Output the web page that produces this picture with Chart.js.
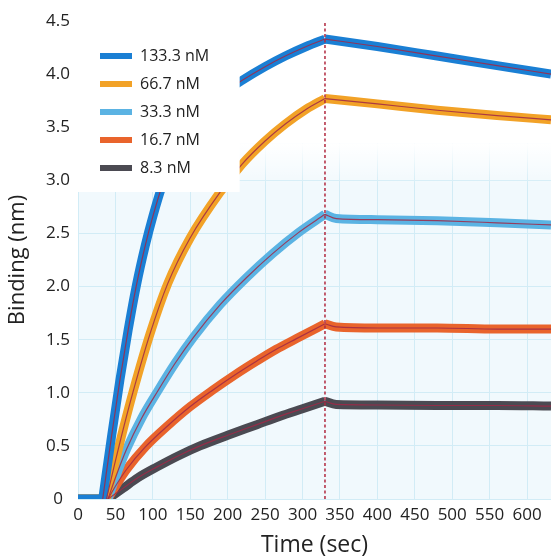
<!DOCTYPE html>
<html>
<head>
<meta charset="utf-8">
<script src="https://cdn.jsdelivr.net/npm/chart.js@4.4.1/dist/chart.umd.min.js"></script>
<style>
  html, body { margin: 0; padding: 0; background: #fff; overflow: hidden; }
</style>
</head>
<body>
<canvas id="chart" width="551" height="556"></canvas>
<script>
// concentrations, in legend order
const seriesLabels = ["133.3 nM", "66.7 nM", "33.3 nM", "16.7 nM", "8.3 nM"];
const seriesColors = ["#1a7fd4", "#f2a227", "#5bb3e3", "#e9642c", "#4b4a52"];

// time (sec) / binding (nm)
const time133 = [0, 33, 45, 56, 67, 78, 90, 100, 112, 130, 150, 175, 200, 219, 250, 277, 305, 330, 400, 480, 560, 632];
const bind133 = [0, 0, 0.6, 1.12, 1.59, 2.01, 2.39, 2.66, 2.94, 3.25, 3.49, 3.7, 3.85, 3.94, 4.07, 4.17, 4.26, 4.33, 4.26, 4.17, 4.08, 4.0];

const time66 = [0, 38, 48, 58, 74, 96, 120, 150, 190, 219, 250, 277, 305, 330, 400, 480, 560, 632];
const bind66 = [0, 0, 0.3, 0.59, 1.02, 1.55, 2.03, 2.46, 2.89, 3.15, 3.37, 3.53, 3.67, 3.77, 3.72, 3.66, 3.61, 3.57];

const time33 = [0, 40, 50, 65, 85, 106, 130, 154, 190, 226, 260, 295, 330, 345, 400, 480, 560, 632];
const bind33 = [0, 0, 0.2, 0.47, 0.76, 1.01, 1.28, 1.52, 1.83, 2.09, 2.31, 2.51, 2.68, 2.64, 2.63, 2.62, 2.6, 2.58];

const time16 = [0, 40, 50, 65, 90, 120, 150, 179, 210, 239, 265, 292, 330, 345, 400, 480, 560, 632];
const bind16 = [0, 0, 0.12, 0.28, 0.49, 0.69, 0.87, 1.02, 1.17, 1.3, 1.41, 1.51, 1.65, 1.62, 1.61, 1.61, 1.6, 1.6];

const time8 = [0, 40, 60, 80, 105, 135, 163, 200, 239, 270, 300, 330, 345, 400, 480, 560, 632];
const bind8 = [0, 0, 0.1, 0.2, 0.3, 0.41, 0.5, 0.6, 0.7, 0.78, 0.85, 0.92, 0.89, 0.885, 0.88, 0.88, 0.875];

const seriesTimes = [time133, time66, time33, time16, time8];
const seriesValues = [bind133, bind66, bind33, bind16, bind8];

// association -> dissociation switch
const switchTime = [330, 330];
const switchLevel = [0, 4.5];

const xTicks = [0, 50, 100, 150, 200, 250, 300, 350, 400, 450, 500, 550, 600];
const yTicks = [0, 0.5, 1.0, 1.5, 2.0, 2.5, 3.0, 3.5, 4.0, 4.5];
const yTickLabels = ["0", "0.5", "1.0", "1.5", "2.0", "2.5", "3.0", "3.5", "4.0", "4.5"];

const toPoints = (ts, vs) => ts.map((t, i) => ({ x: t, y: vs[i] }));

// baseline / association / dissociation, so each phase is smoothed on its own
const phases = (ts, vs) => {
  const pts = toPoints(ts, vs);
  const start = ts[1];
  const sw = switchTime[0];
  return [
    pts.filter(p => p.x <= start),
    pts.filter(p => p.x >= start && p.x <= sw),
    pts.filter(p => p.x >= sw)
  ];
};

Chart.defaults.font.family = "'Open Sans', sans-serif";
Chart.defaults.color = "#222";

const datasets = [];

// dashed marker at end of association
datasets.push({
  label: "switch",
  data: toPoints(switchTime, switchLevel),
  borderColor: "#b1283f",
  borderWidth: 1.5,
  borderDash: [3, 2.5],
  pointRadius: 0
});

// thin fit lines on top of the measured bands
seriesLabels.forEach((label, i) => {
  phases(seriesTimes[i], seriesValues[i]).slice(1).forEach(seg => {
    datasets.push({
      label: "fit",
      data: seg,
      borderColor: "rgba(160, 40, 70, 0.85)",
      borderWidth: 1.2,
      pointRadius: 0,
      cubicInterpolationMode: "monotone"
    });
  });
});

seriesLabels.forEach((label, i) => {
  phases(seriesTimes[i], seriesValues[i]).forEach((seg, k) => {
    datasets.push({
      label: label,
      inLegend: k === 1,
      data: seg,
      borderColor: seriesColors[i],
      backgroundColor: seriesColors[i],
      borderWidth: 9,
      borderJoinStyle: "round",
      pointRadius: 0,
      cubicInterpolationMode: "monotone"
    });
  });
});

// white top region + white legend panel covering the curves
const panelPlugin = {
  id: "panel",
  beforeDraw(chart) {
    const { ctx, chartArea: a } = chart;
    ctx.save();
    ctx.fillStyle = "#fff";
    ctx.fillRect(0, 0, chart.width, chart.height);
    ctx.fillStyle = "#f1f9fd";
    ctx.fillRect(a.left, a.top, a.width, a.height);
    ctx.restore();
  },
  beforeDatasetsDraw(chart) {
    const { ctx, chartArea: a, scales: { y } } = chart;
    const y0 = y.getPixelForValue(3.35);
    const y1 = y.getPixelForValue(2.95);
    const g = ctx.createLinearGradient(0, y0, 0, y1);
    g.addColorStop(0, "rgba(255,255,255,1)");
    g.addColorStop(1, "rgba(255,255,255,0)");
    ctx.save();
    ctx.fillStyle = "#fff";
    ctx.fillRect(a.left, a.top, a.width, y0 - a.top);
    ctx.fillStyle = g;
    ctx.fillRect(a.left, y0, a.width, y1 - y0);
    ctx.restore();
  },
  afterDatasetsDraw(chart) {
    const { ctx, chartArea: a, scales: { x, y }, legend } = chart;
    ctx.save();
    ctx.fillStyle = "#fff";
    ctx.fillRect(a.left, 0, x.getPixelForValue(216) - a.left, y.getPixelForValue(2.89));
    ctx.translate(10, 36);
    legend.draw();
    ctx.restore();
  }
};

new Chart(document.getElementById("chart"), {
  type: "line",
  data: { datasets: datasets },
  options: {
    responsive: false,
    animation: false,
    layout: { padding: { top: 21, left: 0, right: 0, bottom: 0 } },
    scales: {
      x: {
        type: "linear",
        min: 0,
        max: 632,
        afterBuildTicks: scale => { scale.ticks = xTicks.map(v => ({ value: v })); },
        afterFit: scale => { scale.height = 57; },
        ticks: { autoSkip: false, maxRotation: 0, padding: 6, font: { size: 17 }, color: "#222" },
        grid: { color: "#d2ecf6", drawTicks: false },
        border: { display: false },
        title: { display: true, text: "Time (sec)", font: { size: 23 }, color: "#222", padding: { top: 0, bottom: -3 } }
      },
      y: {
        min: 0,
        max: 4.5,
        afterBuildTicks: scale => { scale.ticks = yTicks.map(v => ({ value: v })); },
        afterFit: scale => { scale.width = 78; },
        ticks: {
          padding: 8,
          crossAlign: "center",
          font: { size: 17 },
          color: "#222",
          callback: (value, index) => yTickLabels[index]
        },
        grid: { color: "#d2ecf6", drawTicks: false },
        border: { display: false },
        title: { display: true, text: "Binding (nm)", font: { size: 22 }, color: "#222", padding: { top: 5, bottom: 0 } }
      }
    },
    plugins: {
      legend: {
        position: "chartArea",
        align: "start",
        labels: {
          boxWidth: 32,
          boxHeight: 6,
          padding: 12,
          font: { size: 16 },
          color: "#222",
          filter: (item, data) => data.datasets[item.datasetIndex].inLegend === true,
          generateLabels: chart =>
            Chart.defaults.plugins.legend.labels.generateLabels(chart).map(it => ({ ...it, lineWidth: 0 }))
        }
      },
      tooltip: { enabled: false }
    }
  },
  plugins: [panelPlugin]
});
</script>
</body>
</html>
